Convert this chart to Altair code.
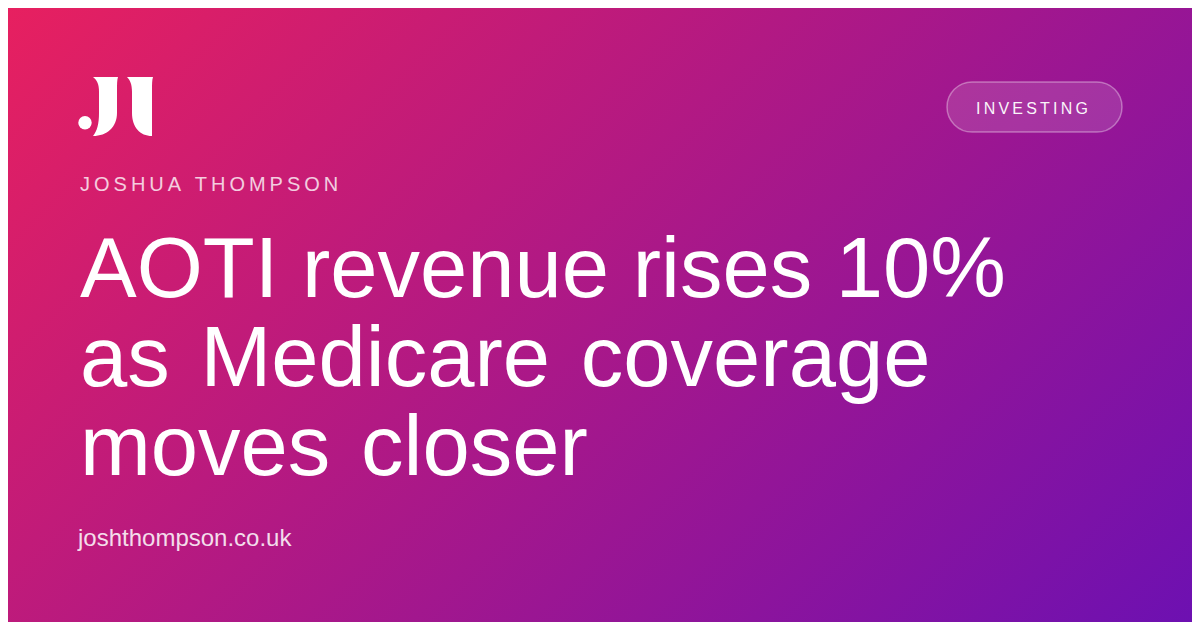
import altair as alt
import pandas as pd

# ---- content -------------------------------------------------------------
author = "JOSHUA THOMPSON"
category = "INVESTING"
title_lines = ["AOTI revenue rises 10%", "as Medicare coverage", "moves closer"]
site = "joshthompson.co.uk"
bg_stops = ["#E8205F", "#6C10B2"]

OFF = 8                      # page margin of the host page
W, H = 1200 - 2 * OFF, 630 - 2 * OFF
THIN = "\u2009"
HAIR = "\u200a"


def track(s):
    """emulate wide letter-spacing with thin spaces"""
    return (THIN + " " + THIN).join(THIN.join(w) for w in s.split(" "))


def wide_words(s):
    return (" " + HAIR).join(s.split(" "))


def path(cmds):
    out = []
    for c, pts in cmds:
        out.append(c + " " + " ".join(f"{x - OFF:.1f} {y - OFF:.1f}" for x, y in pts))
    return " ".join(out) + " Z"


# logo outline (page pixel units)
logo_left = [
    ("M", [(93, 77)]), ("L", [(118, 77)]),
    ("C", [(117, 80), (117, 84), (117, 90)]),
    ("L", [(117, 113)]),
    ("C", [(117, 127), (107, 136), (93, 136)]),
    ("C", [(97, 131), (99, 124), (99, 113)]),
    ("L", [(99, 92)]),
    ("C", [(99, 84), (97, 80), (93, 77)]),
]
logo_right = [
    ("M", [(127, 77)]), ("L", [(153, 77)]),
    ("C", [(152, 80), (152, 84), (152, 90)]),
    ("L", [(152, 136)]),
    ("C", [(140, 136), (132, 127), (132, 113)]),
    ("L", [(132, 92)]),
    ("C", [(132, 84), (130, 80), (127, 77)]),
]

one = pd.DataFrame({"k": [0]})

grad = alt.Gradient(
    gradient="linear",
    stops=[alt.GradientStop(color=bg_stops[0], offset=0),
           alt.GradientStop(color=bg_stops[1], offset=1)],
    x1=-0.0106, y1=-0.0055, x2=1.2074, y2=0.6261,
)

bg = alt.Chart(one).mark_rect(fill=grad).encode(
    x=alt.value(0), x2=alt.value(W), y=alt.value(0), y2=alt.value(H)
)

logo = alt.layer(
    alt.Chart(one).mark_point(shape=path(logo_left), size=4, filled=True,
                              color="white", opacity=1, strokeWidth=0)
    .encode(x=alt.value(0), y=alt.value(0)),
    alt.Chart(one).mark_point(shape=path(logo_right), size=4, filled=True,
                              color="white", opacity=1, strokeWidth=0)
    .encode(x=alt.value(0), y=alt.value(0)),
    alt.Chart(one).mark_point(shape="circle", size=180, filled=True,
                              color="white", opacity=1, strokeWidth=0)
    .encode(x=alt.value(85 - OFF), y=alt.value(122.7 - OFF)),
)

author_t = alt.Chart(pd.DataFrame({"t": [track(author)]})).mark_text(
    align="left", baseline="alphabetic", fontSize=20, font="Liberation Sans",
    color="white", opacity=0.78
).encode(x=alt.value(80 - OFF), y=alt.value(191 - OFF), text="t:N")

pill = alt.Chart(one).mark_rect(
    cornerRadius=25, fill="white", fillOpacity=0.13,
    stroke="white", strokeOpacity=0.35, strokeWidth=1.5
).encode(x=alt.value(947 - OFF), x2=alt.value(1122 - OFF),
         y=alt.value(82 - OFF), y2=alt.value(132 - OFF))

cat_t = alt.Chart(pd.DataFrame({"t": [track(category)]})).mark_text(
    align="center", baseline="alphabetic", fontSize=16, font="Liberation Sans",
    color="white", opacity=0.95
).encode(x=alt.value(1032 - OFF), y=alt.value(114 - OFF), text="t:N")

title_text = "\n".join([title_lines[0]] + [wide_words(s) for s in title_lines[1:]])
title_t = alt.Chart(pd.DataFrame({"t": [title_text]})).mark_text(
    align="left", baseline="alphabetic", lineBreak="\n", lineHeight=89,
    fontSize=85, font="Liberation Sans", color="white"
).encode(x=alt.value(80 - OFF), y=alt.value(297 - OFF), text="t:N")

site_t = alt.Chart(pd.DataFrame({"t": [site]})).mark_text(
    align="left", baseline="alphabetic", fontSize=24, font="Liberation Sans",
    color="white", opacity=0.85
).encode(x=alt.value(78 - OFF), y=alt.value(546 - OFF), text="t:N")

chart = alt.layer(bg, logo, author_t, pill, cat_t, title_t, site_t).properties(
    width=W, height=H, padding=0,
    autosize=alt.AutoSizeParams(type="none"),
).configure_view(strokeWidth=0)

chart.save("out.html", embed_options={"renderer": "svg", "actions": False})
